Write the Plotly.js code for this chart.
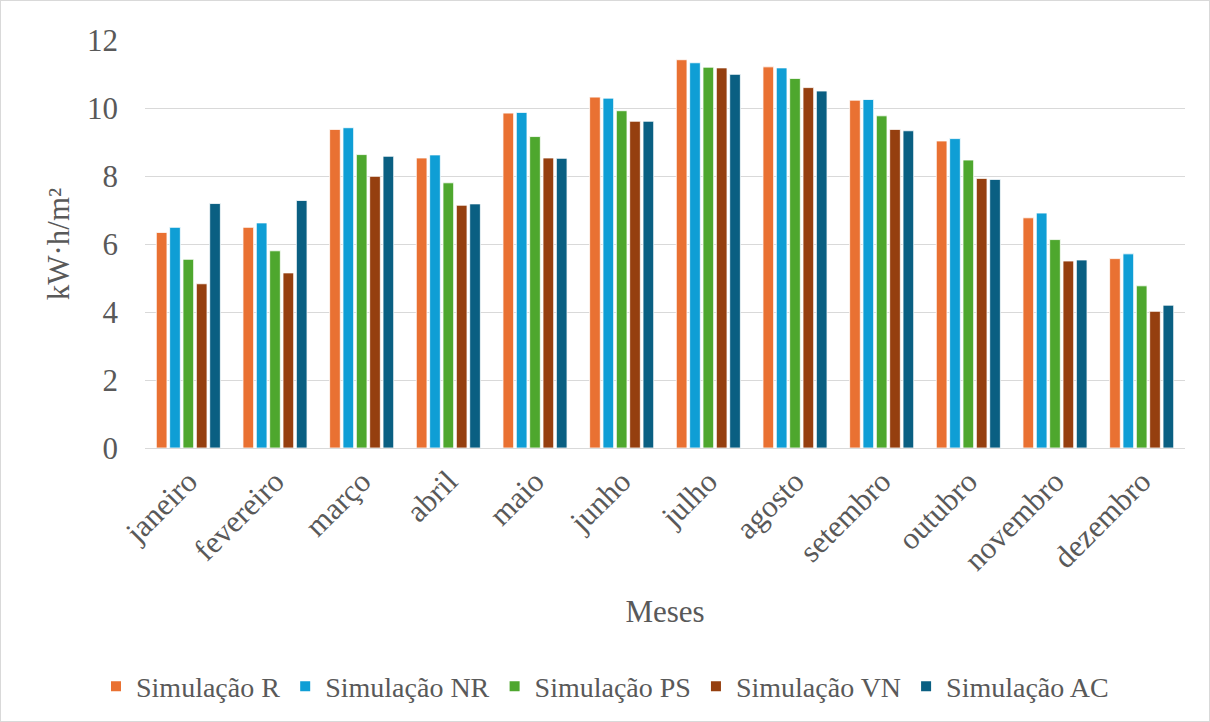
<!DOCTYPE html>
<html><head><meta charset="utf-8">
<script src="https://cdn.plot.ly/plotly-3.0.1.min.js"></script>
<style>html,body{margin:0;padding:0;background:#fff}#chart{width:1208px;height:720px;border:1px solid #d9d9d9}</style>
</head><body><div id="chart"></div>
<script>
const months = ["janeiro","fevereiro","março","abril","maio","junho","julho","agosto","setembro","outubro","novembro","dezembro"];
const simR  = [6.34, 6.49, 9.37, 8.53, 9.85, 10.32, 11.42, 11.21, 10.23, 9.03, 6.77, 5.57];
const simNR = [6.49, 6.62, 9.42, 8.62, 9.87, 10.29, 11.33, 11.18, 10.25, 9.10, 6.91, 5.71];
const simPS = [5.55, 5.80, 8.63, 7.80, 9.16, 9.92, 11.20, 10.87, 9.77, 8.47, 6.13, 4.77];
const simVN = [4.83, 5.15, 7.99, 7.14, 8.53, 9.61, 11.18, 10.60, 9.37, 7.93, 5.50, 4.02];
const simAC = [7.19, 7.28, 8.58, 7.18, 8.52, 9.61, 10.99, 10.50, 9.33, 7.90, 5.53, 4.20];
const seriesNames = ["Simulação R","Simulação NR","Simulação PS","Simulação VN","Simulação AC"];
const seriesValues = [simR, simNR, simPS, simVN, simAC];
const colors = ["#E97132","#0F9ED5","#4EA72E","#953F0F","#0A5F82"];

const traces = seriesValues.map((v,i)=>({
  type:"bar", x:months, y:v, name:seriesNames[i],
  marker:{color:colors[i], line:{color:"#ffffff", width:0.8}},
  hoverinfo:"x+y+name"
}));

const font = 'Liberation Serif';
const txt = "#595959";
const layout = {
  width:1208, height:720,
  margin:{l:144, r:24, t:39, b:273},
  paper_bgcolor:"#fff", plot_bgcolor:"#fff",
  barmode:"group", bargap:0.23, bargroupgap:0.2,
  font:{family:font, color:txt, size:31},
  xaxis:{
    type:"category", tickangle:-45, tickfont:{family:font, size:31, color:txt},
    showgrid:false, showline:false, ticks:"", automargin:false, ticklabelstandoff:8,
    title:{text:"Meses", font:{family:font, size:31, color:txt}, standoff:24}
  },
  yaxis:{
    range:[0,12], dtick:2, tickfont:{family:font, size:31, color:txt},
    gridcolor:"#d9d9d9", gridwidth:1, zeroline:true, zerolinecolor:"#d9d9d9", zerolinewidth:1,
    ticks:"", ticklabelstandoff:26, automargin:false,
    title:{text:"kW·h/m²", font:{family:font, size:31, color:txt}, standoff:8}
  },
  showlegend:true,
  legend:{orientation:"h", x:0.5, xanchor:"center", xref:"container", y:0.048, yanchor:"middle", yref:"container",
    font:{family:font, size:28, color:txt}, traceorder:"normal", itemwidth:30, itemsizing:"constant", tracegroupgap:0}
};
Plotly.newPlot("chart", traces, layout, {displayModeBar:false, staticPlot:true});
</script></body></html>
